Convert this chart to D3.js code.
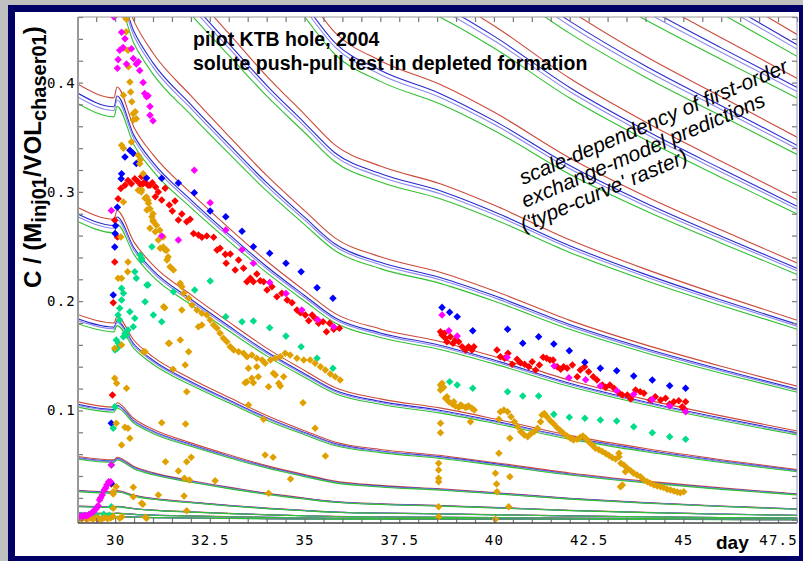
<!DOCTYPE html>
<html><head><meta charset="utf-8">
<script src="https://cdn.jsdelivr.net/npm/d3@7"></script>
<style>body{margin:0;background:#c0c0c0;} svg{display:block}</style>
</head><body>
<svg id="chart" width="803" height="561"></svg>
<script>
// ---------- type-curve raster (top / red member of each family) ----------
const curveDays = [29, 29.97, 30.05, 30.5, 31, 32, 33, 34, 35, 35.8, 37, 38.6, 40, 42, 44, 46, 48];
const curveFi = [.003,.0028,.0029,.0024,.0020,.0016,.0013,.00099,.00076,.00061,.00052,.00045,.00037,.00027,.00019,.00014,.0001];
const curveFh = [.0062,.0058,.0061,.0050,.0043,.0035,.0028,.00217,.0017,.00138,.00118,.00102,.00086,.00063,.00047,.00035,.00025];
const curveFg = [.0125,.0117,.0123,.0103,.00892,.00725,.00585,.00465,.00369,.00302,.00261,.00229,.00194,.00144,.00109,.00082,.00061];
const curveFf = [.027,.0254,.0266,.0224,.0196,.0162,.0132,.01065,.00858,.00712,.00619,.00547,.00468,.00355,.00272,.00209,.00158];
const curveFe = [.058,.0548,.0572,.0487,.0431,.0359,.0298,.0243,.0198,.0167,.0146,.0130,.0113,.00868,.00679,.0053,.00408];
const curveFd = [.108,.103,.107,.0924,.0827,.0703,.0594,.0495,.0413,.0353,.0314,.0283,.0249,.0197,.0158,.0126,.0100];
const curveFc = [.188,.180,.186,.164,.149,.129,.112,.0954,.0815,.0711,.0643,.0587,.0524,.0428,.0353,.0291,.0238];
const curveFb = [.286,.275,.283,.254,.233,.206,.181,.157,.1365,.121,.1106,.1021,.0924,.0772,.0651,.0549,.0459];
const curveFa = [.399,.386,.396,.359,.334,.299,.267,.2367,.2096,.1888,.1746,.1629,.1493,.1276,.1101,.0950,.0812];
const curveU1 = [.5,.485,.496,.456,.427,.388,.351,.315,.2828,.2579,.2406,.2262,.2095,.1824,.1600,.1404,.1222];
const curveU2 = [.6,.585,.596,.555,.525,.484,.445,.406,.371,.343,.3236,.3072,.2879,.2561,.2293,.2053,.1826];
const curveU3 = [.786,.766,.781,.726,.687,.632,.580,.529,.482,.446,.420,.398,.373,.331,.296,.265,.235];
const curveU4 = [.911,.889,.905,.846,.802,.742,.685,.628,.576,.534,.506,.481,.452,.404,.364,.328,.293];
const curveU5 = [.958,.938,.953,.897,.856,.799,.744,.689,.638,.597,.568,.544,.515,.466,.424,.387,.350];
const curveU6 = [.99,.971,.985,.933,.895,.842,.790,.738,.689,.650,.622,.598,.569,.521,.479,.441,.404];
const curveU7 = [1.07,1.05,1.065,1.01,.970,.913,.858,.802,.750,.708,.678,.653,.622,.571,.526,.485,.444];
const families = [curveFi, curveFh, curveFg, curveFf, curveFe, curveFd, curveFc, curveFb, curveFa, curveU1, curveU2, curveU3, curveU4, curveU5, curveU6, curveU7];
const variantScale = [1.0, 0.979, 0.970, 0.955];
const variantColor = ["#cc4a3a", "#2a2ad0", "#8a8af0", "#30c030"];

// ---------- measured series [day, C] ----------
const magentaPts = [[29.05,0.003],[29.1,0.0035],[29.15,0.003],[29.2,0.004],[29.24,0.0034],[29.3,0.0045],[29.37,0.0059],[29.42,0.007],[29.46,0.0089],[29.5,0.010],[29.55,0.0128],[29.59,0.018],[29.62,0.020],[29.66,0.0226],[29.71,0.0272],[29.75,0.029],[29.78,0.0318],[29.83,0.0348],[29.88,0.0348],[29.9,0.050],[29.9,0.283],
[29.97,0.46],[30.06,0.413],[30.08,0.421],[30.12,0.4295],[30.17,0.446],[30.21,0.432],[30.26,0.440],[30.3,0.417],[30.43,0.431],[30.48,0.422],[30.56,0.417],[30.61,0.419],[30.65,0.411],[30.74,0.400],[30.78,0.390],[30.83,0.387],[30.87,0.388],[30.92,0.378],[30.92,0.370],[31.0,0.365],
[31.23,0.2596],[31.67,0.256],[32.09,0.3197],[32.51,0.290],[32.92,0.265],[33.35,0.247],[33.65,0.2346],[34.08,0.217],[34.51,0.207],[34.93,0.192],[35.35,0.183],[35.77,0.1766],
[38.63,0.1873],[38.81,0.173],[39.03,0.168],[40.35,0.1486],[41.59,0.1406],[41.98,0.130],[42.42,0.128],[42.81,0.1223],[43.24,0.118],[43.69,0.1147],[44.18,0.110],[44.64,0.104],[45.06,0.0988]];
const bluePts = [[29.9,0.0333],[29.9,0.0882],[29.95,0.2056],[29.99,0.2495],[30.0,0.262],[30.01,0.269],[30.06,0.286],[30.16,0.312],[30.17,0.3166],[30.26,0.332],[30.39,0.338],[30.48,0.335],[30.56,0.326],[30.83,0.3127],[31.23,0.3124],[31.67,0.308],[32.09,0.2992],[32.51,0.2825],[32.92,0.2772],[33.35,0.264],[33.65,0.2498],[34.08,0.2438],[34.51,0.2346],[34.91,0.2269],[35.33,0.2123],[35.75,0.2026],
[38.63,0.1943],[38.83,0.1898],[39.03,0.1857],[39.44,0.173],[40.36,0.1742],[40.76,0.1614],[41.18,0.1674],[41.58,0.1608],[41.99,0.1546],[42.40,0.144],[42.81,0.1385],[43.24,0.1363],[43.69,0.1315],[44.18,0.1278],[44.64,0.1226],[45.06,0.1202]];
const redPts = [[29.03,0.0005],[29.25,0.001],[29.55,0.0008],[29.8,0.002],[29.9,0.0327],[29.93,0.1141],[29.95,0.1986],[29.99,0.2358],[29.99,0.274],[30.06,0.2587],[30.08,0.2937],[30.15,0.303],[30.26,0.306],[30.34,0.3105],[30.43,0.3075],[30.52,0.312],[30.61,0.309],[30.69,0.306],[30.7,0.314],[30.75,0.308],[30.78,0.309],[30.87,0.306],[30.92,0.306],[30.98,0.3084],[31.06,0.2955],[31.07,0.3044],[31.14,0.2998],[31.23,0.2925],[31.32,0.3032],[31.43,0.288],[31.51,0.2825],[31.58,0.2916],[31.67,0.2742],[31.76,0.2797],[31.89,0.2727],[31.98,0.2749],[32.07,0.262],[32.2,0.2605],[32.29,0.2584],[32.42,0.2596],[32.6,0.2584],[32.69,0.2468],[32.77,0.2483],[32.91,0.2428],[32.93,0.2346],[33.04,0.2431],[33.17,0.2285],[33.26,0.2376],[33.39,0.23],[33.48,0.2178],[33.57,0.2209],[33.65,0.2178],[33.74,0.2248],[33.83,0.2187],[33.92,0.2178],[34.01,0.2102],[34.14,0.2132],[34.27,0.204],[34.4,0.2072],[34.54,0.201],[34.67,0.1986],[34.8,0.1919],[34.89,0.1894],[35.02,0.1873],[35.11,0.1821],[35.2,0.1873],[35.28,0.1843],[35.37,0.1797],[35.49,0.1812],[35.58,0.172],[35.66,0.1797],[35.77,0.1742],[35.92,0.1751],
[38.59,0.172],[38.63,0.169],[38.69,0.1706],[38.72,0.166],[38.76,0.1629],[38.85,0.1674],[38.92,0.1614],[38.98,0.1644],[39.07,0.1629],[39.16,0.1583],[39.25,0.1553],[39.33,0.1583],[39.42,0.1553],[39.47,0.1583],[40.08,0.1553],[40.17,0.1491],[40.28,0.1477],[40.37,0.1523],[40.48,0.1422],[40.61,0.1468],[40.7,0.1437],[40.81,0.1422],[40.92,0.14],[41.01,0.1446],[41.1,0.137],[41.2,0.1416],[41.3,0.1486],[41.39,0.1477],[41.48,0.1461],[41.56,0.1461],[41.67,0.14],[41.76,0.1376],[41.84,0.14],[41.93,0.1385],[42.07,0.1416],[42.2,0.1308],[42.28,0.137],[42.39,0.14],[42.5,0.1354],[42.62,0.1308],[42.72,0.1278],[42.86,0.1232],[42.95,0.1211],[43.06,0.1232],[43.17,0.1202],[43.3,0.1162],[43.39,0.1141],[43.52,0.1141],[43.61,0.1104],[43.74,0.1187],[43.86,0.1171],[43.96,0.1157],[44.13,0.1095],[44.26,0.1125],[44.4,0.1095],[44.53,0.1111],[44.64,0.1059],[44.75,0.108],[44.88,0.1089],[44.97,0.1034],[45.06,0.108],[45.03,0.101]];
const tealPts = [[29.1,0.004],[29.3,0.0045],[29.5,0.004],[29.7,0.005],[29.85,0.004],[29.9,0.0119],[29.9,0.05],[29.95,0.0836],[29.99,0.1034],[30.0,0.1553],[30.03,0.1644],[30.06,0.1568],[30.09,0.1614],[30.08,0.1873],[30.12,0.1827],[30.12,0.1934],[30.17,0.201],[30.17,0.2117],[30.22,0.2072],[30.22,0.1674],[30.26,0.1705],[30.3,0.169],[30.34,0.1736],[30.39,0.1903],[30.48,0.1766],[30.52,0.1843],[30.52,0.2269],[30.56,0.2209],[30.66,0.2422],[30.7,0.2392],[30.7,0.2376],[30.79,0.1995],[30.84,0.2148],[30.87,0.2148],[30.97,0.2498],[31.01,0.1873],[31.23,0.1812],[31.54,0.2086],[32.1,0.2102],[32.51,0.2184],[32.92,0.1857],[33.35,0.1812],[33.65,0.1818],[34.08,0.1757],[34.51,0.168],[34.91,0.1583],[35.33,0.1477],[35.75,0.1385],
[38.63,0.1211],[38.83,0.1263],[39.03,0.1232],[39.44,0.1202],[40.36,0.1171],[40.76,0.1132],[41.18,0.1132],[41.58,0.0964],[41.99,0.0937],[42.40,0.0928],[42.81,0.0912],[43.24,0.0903],[43.69,0.0851],[44.18,0.0796],[44.64,0.0759],[45.06,0.0736]];
const goldPts = [[29.05,0.001],[29.12,0.0005],[29.2,0.002],[29.28,0.001],[29.35,0.0015],[29.42,0.0005],[29.5,0.002],[29.58,0.001],[29.65,0.0005],[29.72,0.002],[29.8,0.001],[29.88,0.0015],[29.95,0.003],
[29.95,0.0104],[29.95,0.0235],[29.95,0.0256],[29.99,0.1294],[29.99,0.1568],[30.03,0.0302],[30.03,0.0882],[30.04,0.1248],[30.08,0.2209],[30.12,0.0013],[30.15,0.2587],[30.17,0.0684],[30.17,0.1598],[30.17,0.2209],[30.17,0.3426],[30.18,0.0027],[30.22,0.2907],[30.22,0.3398],[30.22,0.3883],[30.22,0.4313],[30.26,0.0846],[30.26,0.46],[30.29,0.4465],[30.3,0.1202],[30.3,0.458],[30.33,0.2269],[30.34,0.0836],[30.34,0.2358],[30.34,0.4295],[30.35,0.4145],[30.39,0.0745],[30.39,0.4005],[30.41,0.3913],[30.43,0.3456],[30.44,0.3825],[30.48,0.021],[30.48,0.0297],[30.48,0.3657],[30.48,0.3715],[30.53,0.3733],[30.56,0.3669],[30.61,0.3014],[30.61,0.3334],[30.65,0.3257],[30.66,0.3291],[30.69,0.2998],[30.7,0.015],[30.7,0.3017],[30.73,0.0141],[30.74,0.3166],[30.75,0.1537],[30.79,0.1537],[30.79,0.2941],[30.8,0.0022],[30.83,0.0013],[30.83,0.2953],[30.84,0.2834],[30.87,0.2923],[30.88,0.2895],[30.92,0.2666],[30.92,0.2846],[30.97,0.2772],[31.0,0.274],[31.0,0.28],[31.01,0.2727],[31.06,0.2635],[31.09,0.2694],[31.14,0.0226],[31.14,0.256],[31.18,0.2648],[31.19,0.2483],[31.23,0.0888],[31.27,0.2495],[31.27,0.2587],[31.28,0.1949],[31.31,0.194],[31.32,0.2468],[31.33,0.0531],[31.36,0.2465],[31.37,0.2376],[31.4,0.2404],[31.41,0.1614],[31.43,0.1614],[31.45,0.2315],[31.53,0.1376],[31.54,0.2285],[31.67,0.0446],[31.72,0.1644],[31.72,0.2163],[31.76,0.1919],[31.76,0.2132],[31.81,0.2072],[31.82,0.0217],[31.83,0.0379],[31.85,0.1416],[31.86,0.0876],[31.89,0.0082],[31.89,0.0531],[31.89,0.1171],[31.94,0.1537],[31.94,0.2026],[31.96,0.0363],[32.01,0.0571],[32.03,0.1965],[32.16,0.1919],[32.2,0.1766],[32.29,0.1781],[32.29,0.1889],[32.42,0.1873],[32.51,0.1827],[32.6,0.1781],[32.64,0.0357],[32.69,0.1751],[32.77,0.1706],[32.86,0.166],[32.95,0.1629],[33.04,0.1583],[33.13,0.1553],[33.26,0.1537],[33.39,0.1523],[33.43,0.1254],[33.48,0.1491],[33.48,0.1263],[33.52,0.105],[33.52,0.1385],[33.61,0.1507],[33.61,0.1294],[33.65,0.1254],[33.74,0.1477],[33.74,0.14],[33.78,0.1308],[33.88,0.1461],[33.92,0.0919],[33.96,0.1431],[33.96,0.0592],[34.05,0.1217],[34.05,0.0242],[34.1,0.1461],[34.17,0.0571],[34.18,0.134],[34.23,0.1477],[34.23,0.1324],[34.32,0.1248],[34.36,0.1491],[34.36,0.1223],[34.45,0.1308],[34.49,0.1523],[34.62,0.1507],[34.63,0.0372],[34.8,0.1477],[34.96,0.107],[34.98,0.1461],[35.15,0.1461],[35.28,0.1431],[35.28,0.0836],[35.42,0.14],[35.55,0.137],[35.55,0.0583],[35.68,0.1333],[35.81,0.1308],[35.94,0.1278],
[38.54,0.0027],[38.54,0.0119],[38.54,0.0348],[38.54,0.0379],[38.54,0.0455],[38.54,0.0516],[38.59,0.0796],[38.59,0.0882],[38.59,0.1187],[38.59,0.1233],[38.63,0.1248],[38.67,0.1211],[38.72,0.1111],[38.76,0.1126],[38.81,0.108],[38.9,0.1059],[38.94,0.108],[38.98,0.104],[39.07,0.1028],[39.12,0.105],[39.16,0.104],[39.25,0.1028],[39.3,0.1034],[39.33,0.104],[39.38,0.0897],[39.42,0.1019],[39.48,0.1004],
[40.04,0.0005],[40.04,0.0425],[40.07,0.0327],[40.08,0.0256],[40.13,0.0608],[40.13,0.0919],[40.17,0.0988],[40.26,0.1004],[40.36,0.0988],[40.39,0.0119],[40.42,0.0393],[40.42,0.0745],[40.45,0.0943],[40.54,0.0897],[40.63,0.0851],[40.71,0.0805],[40.8,0.0775],[40.89,0.076],[40.98,0.079],[41.06,0.0805],[41.15,0.0836],[41.23,0.0897],[41.27,0.0958],[41.33,0.0973],[41.4,0.0943],[41.49,0.0906],[41.58,0.0876],[41.67,0.0842],[41.76,0.0814],[41.84,0.079],[41.93,0.0766],[42.02,0.0745],[42.1,0.0729],[42.2,0.0736],[42.28,0.0754],[42.35,0.0766],[42.42,0.0745],[42.5,0.0714],[42.59,0.0684],[42.68,0.0653],[42.77,0.064],[42.86,0.0625],[42.95,0.0605],[43.03,0.059],[43.12,0.057],[43.21,0.0555],[43.3,0.0608],[43.3,0.0576],[43.35,0.0516],[43.34,0.0302],[43.39,0.0318],[43.43,0.05],[43.47,0.0439],[43.52,0.047],[43.61,0.0448],[43.69,0.0425],[43.78,0.0409],[43.87,0.0393],[43.96,0.0363],[44.05,0.0348],[44.13,0.0333],[44.22,0.0318],[44.31,0.0308],[44.4,0.0302],[44.48,0.0295],[44.57,0.0278],[44.66,0.0272],[44.75,0.0263],[44.84,0.0253],[44.92,0.0247],[45.01,0.0256]];
const seriesList = [
  {pts: redPts, color: "#ff0000"},
  {pts: bluePts, color: "#0000ff"},
  {pts: tealPts, color: "#00dd88"},
  {pts: goldPts, color: "#e0a000"},
  {pts: magentaPts, color: "#ff00ff"}
];
// ---------- axis ticks ----------
const xLabelTicks = [30, 32.5, 35, 37.5, 40, 42.5, 45, 47.5];
const xMinorTicks = d3.range(29.5, 48.01, 0.5);
const yLabelTicks = [0.1, 0.2, 0.3, 0.4];
const yMinorTicks = d3.range(0, 0.461, 0.02);

const svg = d3.select("#chart");
const W = 803, H = 561;
const plot = {l: 78, r: 797, t: 17, b: 523};

svg.append("rect").attr("width", W).attr("height", H).attr("fill", "#c0c0c0");
svg.append("rect").attr("x", 8).attr("y", 5).attr("width", W).attr("height", H).attr("fill", "#000066");
svg.append("rect").attr("x", 15).attr("y", 12).attr("width", 784).attr("height", 544).attr("fill", "#ffffff");

const x = d3.scaleLinear().domain([29.02, 48.0]).range([plot.l, plot.r]);
const y = d3.scaleLinear().domain([-0.003, 0.46]).range([plot.b, plot.t]);

svg.append("clipPath").attr("id", "clip").append("rect")
  .attr("x", plot.l).attr("y", plot.t).attr("width", plot.r - plot.l).attr("height", plot.b - plot.t);

const g = svg.append("g").attr("clip-path", "url(#clip)");
const line = d3.line().x(d => x(d[0])).y(d => y(d[1])).curve(d3.curveMonotoneX);

families.forEach(fam => {
  variantScale.forEach((s, vi) => {
    const pts = curveDays.map((d, i) => [d, fam[i] * s]);
    g.append("path").attr("d", line(pts)).attr("fill", "none")
      .attr("stroke", variantColor[vi]).attr("stroke-width", 1.1);
  });
});

const sym = d3.symbol().type(d3.symbolDiamond2).size(36);
seriesList.forEach(s => {
  g.append("g").selectAll("path").data(s.pts).join("path")
    .attr("d", sym)
    .attr("transform", d => `translate(${x(d[0])},${y(d[1])})`)
    .attr("fill", s.color);
});

// axes
const axisColor = "#777777";
const tickFont = "'DejaVu Sans Mono', monospace";
function styleAxis(sel) {
  sel.select(".domain").remove();
  sel.selectAll("line").attr("stroke", axisColor).attr("stroke-width", 1.2);
  sel.selectAll("text").attr("font-family", tickFont).attr("font-size", 14).attr("letter-spacing", 1.2).attr("fill", "#000");
}
svg.append("g").attr("transform", `translate(0,${plot.b})`)
  .call(d3.axisBottom(x).tickValues(xMinorTicks).tickSize(-5).tickFormat("")).call(styleAxis);
svg.append("g").attr("transform", `translate(0,${plot.t})`)
  .call(d3.axisTop(x).tickValues(xMinorTicks).tickSize(-5).tickFormat("")).call(styleAxis);
svg.append("g").attr("transform", `translate(${plot.l},0)`)
  .call(d3.axisLeft(y).tickValues(yMinorTicks).tickSize(-5).tickFormat("")).call(styleAxis);
svg.append("g").attr("transform", `translate(${plot.r},0)`)
  .call(d3.axisRight(y).tickValues(yMinorTicks).tickSize(-5).tickFormat("")).call(styleAxis);
svg.append("g").attr("transform", `translate(0,${plot.b})`)
  .call(d3.axisBottom(x).tickValues(xLabelTicks).tickSize(0).tickPadding(12).tickFormat(d => String(d))).call(styleAxis);
svg.append("g").attr("transform", `translate(${plot.l},0)`)
  .call(d3.axisLeft(y).tickValues(yLabelTicks).tickSize(0).tickPadding(2).tickFormat(d3.format(".1f"))).call(styleAxis);

// frame lines
svg.append("line").attr("x1", plot.l).attr("x2", plot.l).attr("y1", plot.t).attr("y2", plot.b).attr("stroke", "#999").attr("stroke-width", 2);
svg.append("line").attr("x1", plot.l).attr("x2", plot.r).attr("y1", plot.b).attr("y2", plot.b).attr("stroke", "#444").attr("stroke-width", 1.5);
svg.append("line").attr("x1", plot.l).attr("x2", plot.r).attr("y1", plot.t).attr("y2", plot.t).attr("stroke", "#999").attr("stroke-width", 1);
svg.append("line").attr("x1", plot.r).attr("x2", plot.r).attr("y1", plot.t).attr("y2", plot.b).attr("stroke", "#999").attr("stroke-width", 1);

// texts
const sans = "'Liberation Sans', Arial, sans-serif";
svg.append("text").attr("x", 193).attr("y", 46).attr("font-family", sans).attr("font-size", 19.5).attr("font-weight", "bold").text("pilot KTB hole, 2004");
svg.append("text").attr("x", 193).attr("y", 70).attr("font-family", sans).attr("font-size", 19.5).attr("font-weight", "bold").text("solute push-pull test in depleted formation");

const noteLines = [["scale-dependency of first-order", 523, 185], ["exchange-model predictions", 525, 208], ["('type-curve' raster)", 524, 232]];
noteLines.forEach(([t, tx, ty]) => {
  svg.append("text").attr("transform", `translate(${tx},${ty}) rotate(-23)`)
    .attr("font-family", sans).attr("font-size", 21).attr("font-style", "italic").text(t);
});

svg.append("text").attr("x", 716).attr("y", 549).attr("font-family", sans).attr("font-size", 19).attr("font-weight", "bold").text("day");

const yt = svg.append("text").attr("transform", "translate(41,288) rotate(-90)")
  .attr("font-family", sans).attr("font-size", 24).attr("font-weight", "bold");
yt.append("tspan").text("C / (M");
yt.append("tspan").attr("font-size", 20).attr("dy", 5).text("inj01");
yt.append("tspan").attr("dy", -5).text("/VOL");
yt.append("tspan").attr("font-size", 20).attr("dy", 5).text("chaser01");
yt.append("tspan").attr("dy", -5).text(")");
</script>
</body></html>
